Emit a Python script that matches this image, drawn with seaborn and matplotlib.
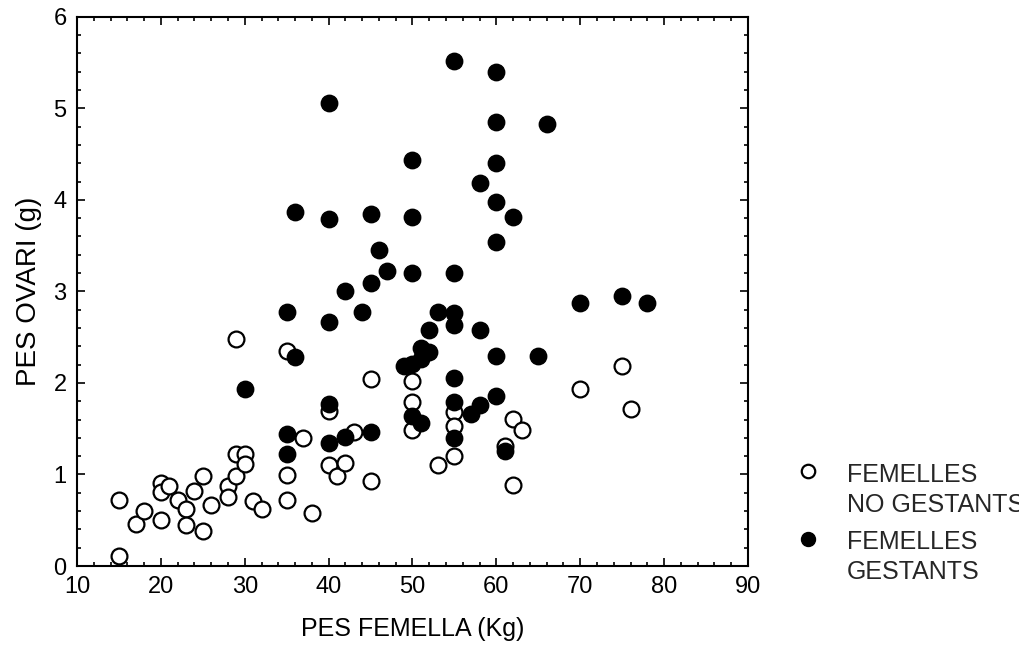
import matplotlib
matplotlib.use("Agg")
import matplotlib.pyplot as plt
from matplotlib.ticker import MultipleLocator
import seaborn as sns
import pandas as pd

# --- data ---
no_gest_x = [15, 15, 17, 18, 20, 20, 20, 21, 22, 23, 23, 24, 25, 25, 26, 28, 28,
             29, 29, 29, 30, 30, 31, 32, 35, 35, 35, 37, 38, 40, 40, 41, 42, 43,
             45, 45, 50, 50, 50, 53, 55, 55, 55, 61, 62, 62, 63, 70, 75, 76]
no_gest_y = [0.72, 0.11, 0.46, 0.60, 0.91, 0.81, 0.50, 0.87, 0.72, 0.62, 0.45,
             0.82, 0.98, 0.38, 0.67, 0.87, 0.75, 2.48, 1.22, 0.98, 1.22, 1.11,
             0.71, 0.62, 2.35, 0.99, 0.72, 1.40, 0.58, 1.69, 1.10, 0.98, 1.12,
             1.46, 2.04, 0.93, 2.02, 1.79, 1.49, 1.10, 1.68, 1.53, 1.20, 1.31,
             1.61, 0.88, 1.49, 1.93, 2.19, 1.71]

gest_x = [30, 35, 35, 35, 36, 36, 40, 40, 40, 40, 40, 42, 42, 44, 45, 45, 45, 46,
          47, 49, 50, 50, 50, 50, 50, 51, 51, 51, 52, 52, 53, 55, 55, 55, 55, 55,
          55, 55, 57, 58, 58, 58, 60, 60, 60, 60, 60, 60, 60, 61, 62, 65, 66, 70,
          75, 78]
gest_y = [1.93, 2.78, 1.44, 1.22, 3.87, 2.28, 5.06, 3.79, 2.67, 1.77, 1.34, 3.00,
          1.41, 2.78, 3.84, 3.09, 1.46, 3.45, 3.22, 2.19, 4.43, 3.81, 3.20, 2.21,
          1.64, 2.38, 2.26, 1.56, 2.58, 2.34, 2.78, 5.52, 3.20, 2.76, 2.63, 2.05,
          1.79, 1.40, 1.66, 1.76, 4.18, 2.58, 5.40, 4.85, 4.40, 3.98, 3.54, 2.29,
          1.86, 1.26, 3.81, 2.29, 4.83, 2.87, 2.95, 2.87]

label_no = "FEMELLES\nNO GESTANTS"
label_gest = "FEMELLES\nGESTANTS"
x_ticks = [10, 20, 30, 40, 50, 60, 70, 80, 90]
y_ticks = [0, 1, 2, 3, 4, 5, 6]

sns.set_theme(style="white")
plt.rcParams['font.family'] = ['Liberation Sans', 'DejaVu Sans']

fig = plt.figure(figsize=(10.19, 6.53), dpi=100)
ax = fig.add_axes([0.0756, 0.1332, 0.6584, 0.8412])

df_no = pd.DataFrame({"x": no_gest_x, "y": no_gest_y})
df_g = pd.DataFrame({"x": gest_x, "y": gest_y})

sns.scatterplot(data=df_no, x="x", y="y", ax=ax, s=130, marker="o",
                facecolor="white", edgecolor="black", linewidth=1.6,
                label=label_no, zorder=3)
sns.scatterplot(data=df_g, x="x", y="y", ax=ax, s=140, marker="o",
                facecolor="black", edgecolor="black", linewidth=1.0,
                label=label_gest, zorder=4)

ax.set_xlim(10, 90)
ax.set_ylim(0, 6)
ax.set_xticks(x_ticks)
ax.set_yticks(y_ticks)
ax.xaxis.set_minor_locator(MultipleLocator(2))
ax.yaxis.set_minor_locator(MultipleLocator(0.2))
ax.tick_params(which="both", direction="in", top=True, right=True,
               bottom=True, left=True, color="black", width=1.2,
               labelsize=17, labelcolor="black")
ax.tick_params(which="major", length=6, pad=7.5)
ax.tick_params(which="minor", length=3)
for sp in ax.spines.values():
    sp.set_visible(True)
    sp.set_color("black")
    sp.set_linewidth(1.5)

ax.set_xlabel("PES FEMELLA (Kg)", fontsize=18, color="black", labelpad=13.5)
ax.set_ylabel("PES OVARI (g)", fontsize=20, color="black", labelpad=8)

leg = ax.legend(loc="upper left", bbox_to_anchor=(0.7807, 0.2910),
                bbox_transform=fig.transFigure, frameon=False,
                fontsize=18, handletextpad=1.05, labelspacing=0.55,
                markerscale=0.85, handlelength=1.0, borderpad=0,
                borderaxespad=0, scatteryoffsets=[1.6])
for t in leg.get_texts():
    t.set_linespacing(1.3)

fig.savefig("out.png", dpi=100)
